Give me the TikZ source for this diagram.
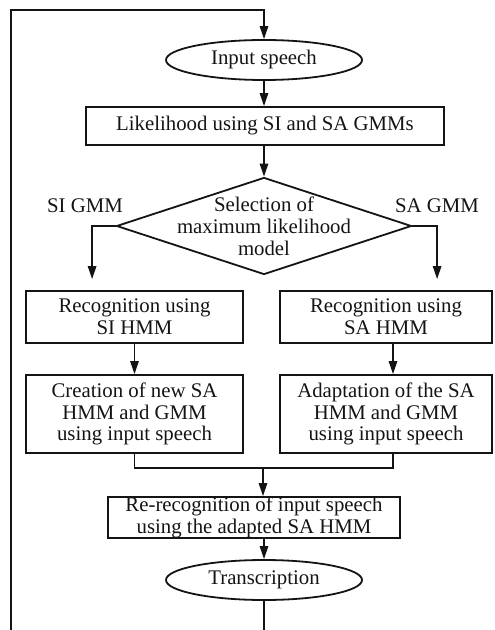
\documentclass[tikz,border=0pt]{standalone}
\usepackage{fontspec}
\setmainfont{Liberation Serif}
\usetikzlibrary{shapes.geometric,arrows.meta,calc}
\newcommand{\Unit}{0.5pt}
\newcommand{\Edge}{0.9pt}
\newcommand{\Wire}{0.8pt}
\newcommand{\Txt}{\fontsize{10.4}{10.9}\selectfont}
\definecolor{ink}{HTML}{141414}

\tikzset{
  flow/.style={draw=ink,line width=\Wire},
  arrow/.style={flow,-{Triangle[length=6.5pt,width=4.2pt]}},
  proc/.style={draw=ink,line width=\Edge,rectangle,align=center,inner sep=1pt,text=ink,font=\Txt},
  term/.style={proc,ellipse,inner sep=0pt},
  decision/.style={draw=ink,line width=\Edge,diamond,inner sep=0pt},
  lbl/.style={text=ink,font=\Txt,align=center,inner sep=0pt}
}

\begin{document}
\begin{tikzpicture}[x=\Unit,y=-\Unit, line join=miter]

  \useasboundingbox (0,0) rectangle (494,630);

  % ---- start and first pass -----------------------------------------------
  \node[term,minimum width=98pt,minimum height=20pt] (inspeech) at (264,60) {Input speech};
  \node[proc,minimum width=179pt,minimum height=19pt] (likeli) at (265,126)
    {Likelihood using SI and SA GMMs};

  % ---- the choice of model ------------------------------------------------
  \node[decision,minimum width=147.5pt,minimum height=48.5pt] (select) at (264,226) {};
  \node[lbl] (selecttext) at (select) {Selection of\\maximum likelihood\\model};
  \node[lbl] (sigmm) at (85,206) {SI GMM};
  \node[lbl] (sagmm) at (437,206) {SA GMM};

  % ---- the two branches ---------------------------------------------------
  \node[proc,minimum width=108.5pt,minimum height=26pt] (sihmm) at (134.5,317)
    {Recognition using\\SI HMM};
  \node[proc,minimum width=106pt,minimum height=26pt] (sahmm) at (386,317)
    {Recognition using\\SA HMM};
  \node[proc,minimum width=108.5pt,minimum height=39pt] (newsa) at (134.5,414)
    {Creation of new SA\\HMM and GMM\\using input speech};
  \node[proc,minimum width=106pt,minimum height=39pt] (adapt) at (386,414)
    {Adaptation of the SA\\HMM and GMM\\using input speech};

  % ---- second pass and output ---------------------------------------------
  \node[proc,minimum width=146pt,minimum height=19.5pt,inner ysep=0pt] (rerec) at (254,517.5)
    {Re-recognition of input speech\\using the adapted SA HMM};
  \node[term,minimum width=98pt,minimum height=20pt] (trans) at (264,580) {Transcription};

  % ---- connectors ---------------------------------------------------------
  \coordinate (feed) at (11,630);
  \coordinate (feedtop) at (11,10);
  \coordinate (merge) at (263,468);
  \coordinate (out) at (264,630);

  \draw[arrow] (feed) -- (feedtop) -| (inspeech.north);
  \draw[arrow] (inspeech.south) -- (inspeech.south |- likeli.north);
  \draw[arrow] (likeli.south -| select.north) -- (select.north);

  \draw[arrow,shorten >=5.5pt] (select.west) -| ([xshift=33.5pt]sihmm.north west);
  \draw[arrow,shorten >=5.5pt] (select.east) -| ([xshift=79pt]sahmm.north west);

  \draw[arrow] (sihmm.south) -- (newsa.north);
  \draw[arrow] ([xshift=3.5pt]sahmm.south) -- ([xshift=3.5pt]adapt.north);

  \draw[flow] (newsa.south) |- (merge) -| ([xshift=3.5pt]adapt.south);
  \draw[arrow] (merge) -- (merge |- rerec.north);
  \draw[arrow] (trans.north |- rerec.south) -- (trans.north);
  \draw[flow] (trans.south) -- (out);

\end{tikzpicture}
\end{document}
